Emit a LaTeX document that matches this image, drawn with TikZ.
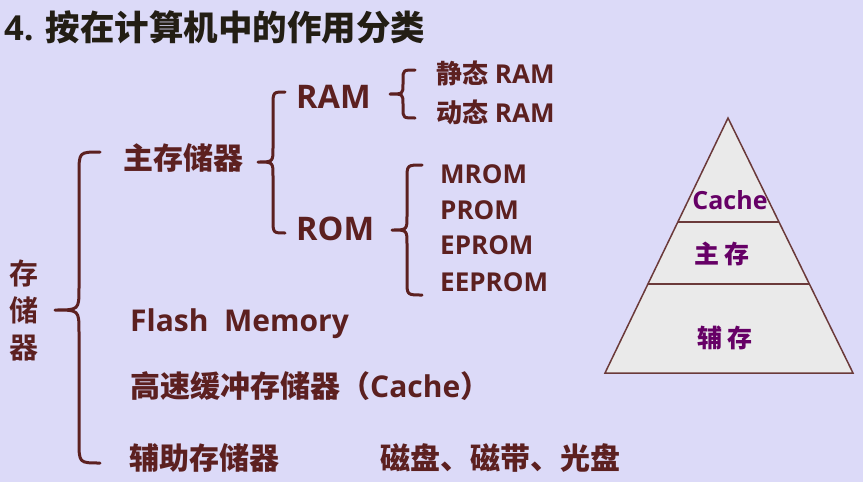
\documentclass[tikz,border=0pt]{standalone}
\usepackage{fontspec}
\setmainfont{Open Sans}
\newfontfamily\cjk{Noto Sans CJK SC Bold}
\definecolor{bg}{HTML}{DCDAF8}
\definecolor{txt}{HTML}{5C2020}
\definecolor{ttl}{HTML}{231E14}
\definecolor{pfill}{HTML}{EAEAEA}
\definecolor{pline}{HTML}{6B3A3A}
\definecolor{purp}{HTML}{660066}
\newcommand\mybrc[7]{\draw[brc] (#4,#5) .. controls (#3,#5) .. (#3,{#5+#7}) -- (#3,{#2-#7}) .. controls (#3,#2) .. (#1,#2) .. controls (#3,#2) .. (#3,{#2+#7}) -- (#3,{#6-#7}) .. controls (#3,#6) .. (#4,#6);}
\tikzset{
  brc/.style={draw=txt, line width=3pt, line cap=round, line join=round},
  lbl/.style={anchor=west, inner sep=0pt, text=txt, font=\bfseries\fontsize{30}{32}\selectfont},
  sub/.style={anchor=west, inner sep=0pt, text=txt, font=\bfseries\fontsize{26}{28}\selectfont},
  pyr/.style={inner sep=0pt, text=purp, font=\bfseries\fontsize{25}{27}\selectfont},
}
\begin{document}
\begin{tikzpicture}[x=1pt,y=-1pt]
\fill[bg] (0,0) rectangle (863,482);
\useasboundingbox (0,0) rectangle (863,482);
% title
\node[anchor=west, inner sep=0pt, text=ttl, font=\bfseries\fontsize{34.5}{36}\selectfont] (title) at (4,27) {4. {\cjk 按在计算机中的作用分类}};
% root
\node[inner sep=0pt, text=txt, font=\cjk\fontsize{29}{37}\selectfont, align=center] (root) at (24,310) {存\\储\\器};
\mybrc{55}{310}{79}{100}{152}{463}{22}
% level 1
\node[lbl] (main) at (123,158) {\cjk 主存储器};
\node[lbl] (flash) at (130,324) {Flash\ \ Memory};
\node[lbl] (cache) at (130,386) {{\cjk 高速缓冲存储器（}Cache{\cjk ）}};
\node[lbl] (aux) at (129,458) {\cjk 辅助存储器};
\node[lbl] (disk) at (380,458) {\cjk 磁盘、磁带、光盘};
% RAM / ROM
\mybrc{258}{162}{273}{285}{92}{233}{14}
\node[lbl, font=\bfseries\fontsize{32.5}{34}\selectfont] (ram) at (296,97) {RAM};
\node[lbl, font=\bfseries\fontsize{32.5}{34}\selectfont] (rom) at (296,229) {ROM};
% RAM types
\mybrc{390}{94}{403}{415}{70}{118}{10}
\node[sub] (sram) at (436,73) {{\cjk 静态} RAM};
\node[sub] (dram) at (436,112) {{\cjk 动态} RAM};
% ROM types
\mybrc{392}{230}{407}{422}{165}{295}{14}
\node[sub] (mrom) at (440,174) {MROM};
\node[sub] (prom) at (440,210) {PROM};
\node[sub] (eprom) at (440,245) {EPROM};
\node[sub] (eeprom) at (440,282) {EEPROM};
% pyramid
\coordinate (apex) at (728,118);
\coordinate (bl) at (605,373);
\coordinate (br) at (853,373);
\fill[pfill] (apex) -- (bl) -- (br) -- cycle;
\draw[pline, line width=1.5pt] (apex) -- (bl) -- (br) -- cycle;
\path (apex) -- (bl) coordinate[pos={(222-118)/255}] (l1) coordinate[pos={(284-118)/255}] (l2);
\path (apex) -- (br) coordinate[pos={(222-118)/255}] (r1) coordinate[pos={(284-118)/255}] (r2);
\draw[pline, line width=1.5pt] (l1) -- (r1);
\draw[pline, line width=1.5pt] (l2) -- (r2);
\node[pyr] (pc) at (730,200) {Cache};
\node[pyr] (pm) at (722,254) {\cjk 主\ 存};
\node[pyr] (pa) at (725,338) {\cjk 辅\ 存};
\end{tikzpicture}
\end{document}
